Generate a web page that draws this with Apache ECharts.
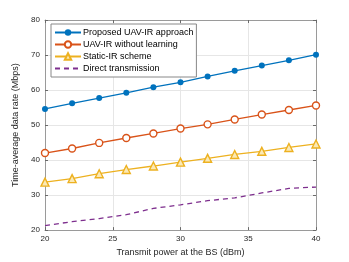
<!DOCTYPE html>
<html><head><meta charset="utf-8">
<script src="https://cdn.jsdelivr.net/npm/echarts@6/dist/echarts.min.js"></script>
<style>html,body{margin:0;padding:0;background:#fff}#c{width:349px;height:262px}</style>
</head><body><div id="c"></div>
<script>
const xValues = [20, 22, 24, 26, 28, 30, 32, 34, 36, 38, 40];
const proposed = [54.6, 56.2, 57.7, 59.2, 60.8, 62.2, 63.9, 65.5, 67.0, 68.5, 70.1];
const noLearning = [42.0, 43.3, 44.9, 46.3, 47.6, 49.0, 50.2, 51.6, 53.0, 54.3, 55.6];
const staticIR = [33.7, 34.7, 36.1, 37.3, 38.3, 39.4, 40.5, 41.6, 42.5, 43.6, 44.6];
const direct = [21.3, 22.4, 23.3, 24.4, 26.2, 27.2, 28.4, 29.2, 30.6, 31.9, 32.3];
const seriesNames = ['Proposed UAV-IR approach', 'UAV-IR without learning', 'Static-IR scheme', 'Direct transmission'];
const xTicks = [20, 25, 30, 35, 40];
const yTicks = [20, 30, 40, 50, 60, 70, 80];

const font = 'Liberation Sans, Arial, sans-serif';
const axisColor = '#262626';
const pair = a => a.map((v, i) => [xValues[i], v]);
const chart = echarts.init(document.getElementById('c'));
const baseX = {type: 'value', min: 20, max: 40, interval: 5,
  axisLine: {lineStyle: {color: '#9a9a9a', width: 1}},
  axisTick: {inside: true, length: 3, lineStyle: {color: '#6a6a6a'}}};
const baseY = {type: 'value', min: 20, max: 80, interval: 10,
  axisLine: {show: true, lineStyle: {color: '#9a9a9a', width: 1}},
  axisTick: {show: true, inside: true, length: 3, lineStyle: {color: '#6a6a6a'}}};
chart.setOption({
  animation: false,
  grid: {left: 45, right: 33, top: 20, bottom: 29},
  legend: {
    data: [
      {name: seriesNames[0]}, {name: seriesNames[1]}, {name: seriesNames[2]},
      {name: seriesNames[3], itemStyle: {opacity: 0}}
    ],
    orient: 'vertical', left: 51, top: 24,
    backgroundColor: '#fff', borderColor: '#888', borderWidth: 1, borderRadius: 0,
    padding: [4, 3, 4, 3], itemGap: 3, itemWidth: 26, itemHeight: 8,
    textStyle: {fontFamily: font, fontSize: 9, color: '#000', padding: [0, 0, 0, -3]}
  },
  xAxis: [
    Object.assign({}, baseX, {position: 'bottom',
      name: 'Transmit power at the BS (dBm)', nameLocation: 'middle', nameGap: 16,
      nameTextStyle: {fontFamily: font, fontSize: 9, color: axisColor},
      axisLabel: {fontFamily: font, fontSize: 8, color: axisColor, margin: 5},
      splitLine: {show: true, lineStyle: {color: '#e6e6e6'}}}),
    Object.assign({}, baseX, {position: 'top', axisLabel: {show: false}, splitLine: {show: false}})
  ],
  yAxis: [
    Object.assign({}, baseY, {position: 'left',
      name: 'Time-average data rate (Mbps)', nameLocation: 'middle', nameGap: 16,
      nameTextStyle: {fontFamily: font, fontSize: 9, color: axisColor},
      axisLabel: {fontFamily: font, fontSize: 8, color: axisColor, margin: 5},
      splitLine: {show: true, lineStyle: {color: '#e6e6e6'}}}),
    Object.assign({}, baseY, {position: 'right', axisLabel: {show: false}, splitLine: {show: false}})
  ],
  series: [
    {name: seriesNames[0], type: 'line', data: pair(proposed),
     symbol: 'circle', symbolSize: 6, lineStyle: {width: 1.3, color: '#0072BD'},
     itemStyle: {color: '#0072BD'}},
    {name: seriesNames[1], type: 'line', data: pair(noLearning),
     symbol: 'circle', symbolSize: 7, lineStyle: {width: 1.3, color: '#D95319'},
     itemStyle: {color: '#fff', borderColor: '#D95319', borderWidth: 1.4}},
    {name: seriesNames[2], type: 'line', data: pair(staticIR),
     symbol: 'triangle', symbolSize: 8, lineStyle: {width: 1.3, color: '#EDB120'},
     itemStyle: {color: '#fbe9b5', borderColor: '#EDB120', borderWidth: 1.4}},
    {name: seriesNames[3], type: 'line', data: pair(direct),
     symbol: 'none', lineStyle: {width: 1.3, type: [5, 4], color: '#7E2F8E'}, itemStyle: {color: '#7E2F8E'}}
  ]
});
</script></body></html>
